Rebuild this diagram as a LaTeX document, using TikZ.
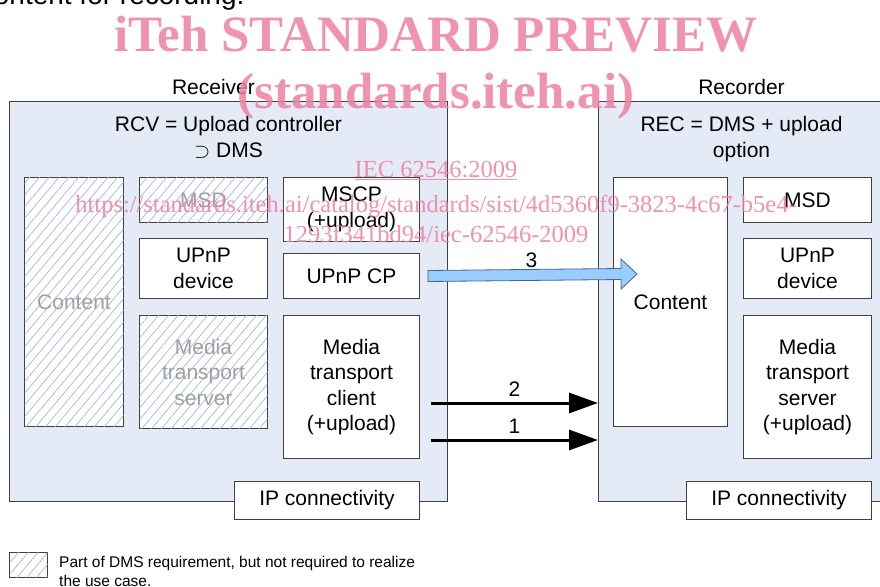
\documentclass[tikz,border=0pt]{standalone}
\usepackage{fontspec}
\setmainfont{Liberation Sans}
\newfontfamily\wmfont{Liberation Serif}
\usetikzlibrary{positioning,calc,arrows.meta,patterns.meta}

\definecolor{panelblue}{RGB}{228,234,246}
\definecolor{hatchblue}{RGB}{150,175,220}
\definecolor{boxline}{RGB}{64,64,64}
\definecolor{fatblue}{RGB}{153,204,255}
\definecolor{fatline}{RGB}{70,100,140}
\definecolor{wmpink}{RGB}{236,128,160}
\definecolor{dimtext}{RGB}{160,160,160}

\begin{document}
\begin{tikzpicture}[
    x=1pt, y=-1pt,
    font=\fontsize{21}{25.5}\selectfont,
    panel/.style ={
        draw=boxline,
        line width=1pt,
        fill=panelblue,
        anchor=north west,
        minimum width=438pt,
        minimum height=400pt,
        inner sep=0pt
    },
    blk/.style ={
        draw=boxline,
        line width=1pt,
        fill=white,
        align=center,
        inner sep=0pt
    },
    dms/.style ={
        blk,
        text=dimtext,
        postaction={pattern={Lines[angle=50,distance=7.5pt,line width=0.6pt]}, pattern color=hatchblue}
    },
    fatarrow/.style ={
        draw=fatline,
        line width=0.8pt,
        fill=fatblue
    },
    datarrow/.style ={
        line width=3pt,
        -{Triangle[length=29pt,width=20pt]}
    },
    wm/.style ={
        text=wmpink,
        text opacity=0.85,
        anchor=base
    }
    ]

    \useasboundingbox (0,0) rectangle (880,586);

    \node[anchor=base east, font=\fontsize{28}{30}\selectfont] (cutline) at (248,5) {content for recording.};

    % receiver side
    \node[panel] (rcv) at (9,101) {};
    \node (rcvname) [above=3pt of rcv.north, xshift=-15pt] {Receiver};
    \node[align=center] (rcvtitle) [below=12pt of rcv.north] {RCV = Upload controller\\$\supset$ DMS};
    \node[dms, minimum width=99pt, minimum height=249pt] (rcvcontent) [below right=76pt and 15pt of rcv.north west] {Content};
    \node[dms, minimum width=128pt, minimum height=45pt] (rcvmsd) [below right=0pt and 15pt of rcvcontent.north east] {MSD};
    \node[blk, minimum width=128pt, minimum height=60pt] (rcvupnp) [below=15pt of rcvmsd] {UPnP\\device};
    \node[dms, minimum width=128pt, minimum height=113pt] (rcvmts) [below=16pt of rcvupnp] {Media\\transport\\server};
    \node[blk, minimum width=136pt, minimum height=64pt] (mscp) [below right=0pt and 15pt of rcvmsd.north east] {MSCP\\(+upload)};
    \node[blk, minimum width=136pt, minimum height=45pt] (upnpcp) [below=11pt of mscp] {UPnP CP};
    \node[blk, minimum width=136pt, minimum height=143pt] (mtclient) [below=16pt of upnpcp] {Media\\transport\\client\\(+upload)};
    \node[blk, minimum width=185pt, minimum height=38pt] (rcvip) [below left=22pt and 0pt of mtclient.south east] {IP connectivity};

    % recorder side
    \node[panel, minimum width=286pt] (rec) at (598,101) {};
    \node (recname) [above=3pt of rec.north] {Recorder};
    \node[align=center] (rectitle) [below=12pt of rec.north] {REC = DMS + upload\\option};
    \node[blk, minimum width=114pt, minimum height=249pt] (reccontent) [below right=76pt and 15pt of rec.north west] {Content};
    \node[blk, minimum width=128pt, minimum height=45pt] (recmsd) [below right=0pt and 15pt of reccontent.north east] {MSD};
    \node[blk, minimum width=128pt, minimum height=60pt] (recupnp) [below=15pt of recmsd] {UPnP\\device};
    \node[blk, minimum width=128pt, minimum height=143pt] (recmts) [below=16pt of recupnp] {Media\\transport\\server\\(+upload)};
    \node[blk, minimum width=185pt, minimum height=38pt] (recip) [below left=22pt and 0pt of recmts.south east] {IP connectivity};

    % transfers
    \coordinate (tip3) at (637,274);
    \coordinate (out2) at (431,403);
    \coordinate (out1) at (431,440);
    \draw[fatarrow] ($(upnpcp.east)+(8,-5.5)$) -- ($(tip3)+(-16,-5.5)$) -- ($(tip3)+(-16,-15)$)
        -- (tip3) -- ($(tip3)+(-16,15)$) -- ($(tip3)+(-16,5.5)$) -- ($(upnpcp.east)+(8,5.5)$) -- cycle;
    \node (lbl3) at ($(upnpcp.east)!0.5!(tip3)+(3,-15)$) {3};
    \draw[datarrow] (out2) -- node[above=2pt] (lbl2) {2} (out2 -| rec.west);
    \draw[datarrow] (out1) -- node[above=2pt] (lbl1) {1} (out1 -| rec.west);

    % legend
    \node[dms, minimum width=38pt, minimum height=25pt, anchor=north west] (legbox) at (9,552) {};
    \node[anchor=north west, inner sep=0pt, align=left, font=\fontsize{15.5}{19.5}\selectfont] (legtxt)
        at ($(legbox.north east)+(11,4)$) {Part of DMS requirement, but not required to realize\\the use case.};

    % watermark
    \node[wm, font=\wmfont\bfseries\fontsize{51}{55}\selectfont] (wmtop) at (436,52) {iTeh STANDARD PREVIEW};
    \node[wm, font=\wmfont\bfseries\fontsize{51}{55}\selectfont] (wmsite) at (436,108) {(standards.iteh.ai)};
    \node[wm, font=\wmfont\fontsize{24.5}{26}\selectfont] (wmiec) at (436,177) {\underline{IEC 62546:2009}};
    \node[wm, font=\wmfont\fontsize{24.5}{26}\selectfont] (wmurl) at (436,212) {https://standards.iteh.ai/catalog/standards/sist/4d5360f9-3823-4c67-b5e4-};
    \node[wm, font=\wmfont\fontsize{24.5}{26}\selectfont] (wmurlb) at (436,242) {1293f341bd94/iec-62546-2009};
\end{tikzpicture}
\end{document}
